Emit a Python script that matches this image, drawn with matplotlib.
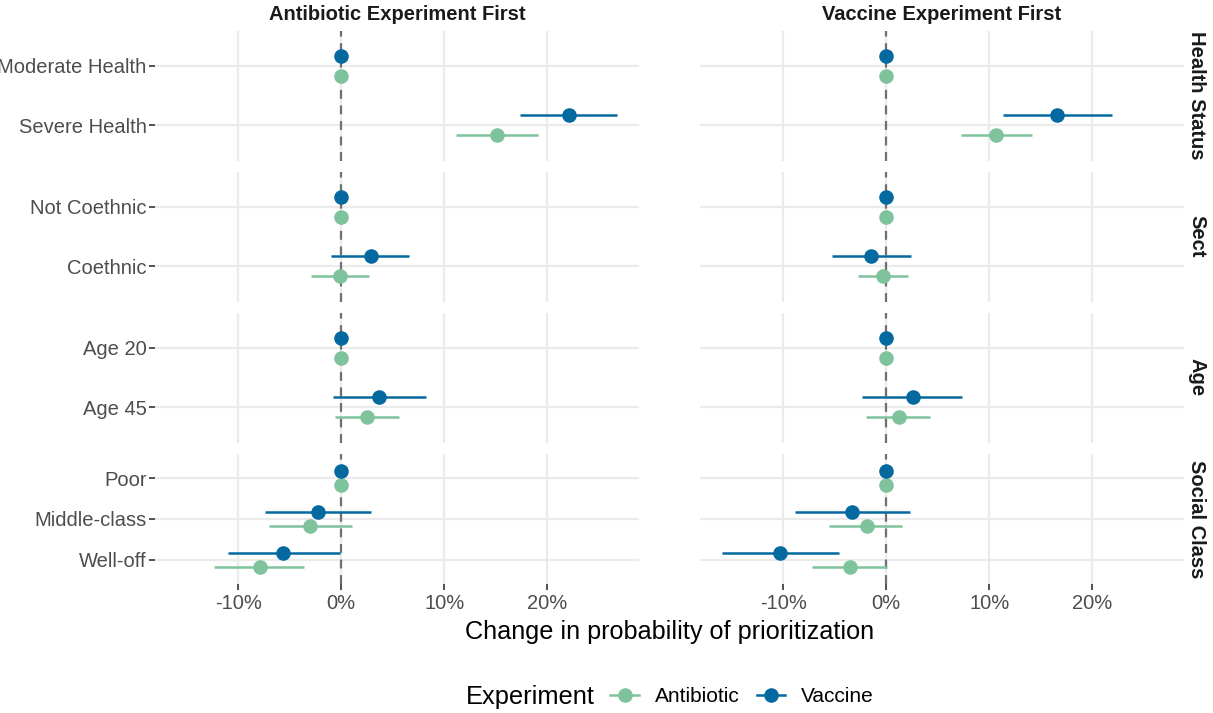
import numpy as np
import matplotlib
matplotlib.use("Agg")
import matplotlib.pyplot as plt
from matplotlib.lines import Line2D
from matplotlib.ticker import FuncFormatter
from matplotlib.offsetbox import HPacker

plt.rcParams['font.family'] = ['Liberation Sans', 'DejaVu Sans']

# facet rows and their levels (top to bottom)
groups = ['Health Status', 'Sect', 'Age', 'Social Class']
levels = [['Moderate Health', 'Severe Health'],
          ['Not Coethnic', 'Coethnic'],
          ['Age 20', 'Age 45'],
          ['Poor', 'Middle-class', 'Well-off']]
columns = ['Antibiotic Experiment First', 'Vaccine Experiment First']
series = ['Antibiotic', 'Vaccine']
colors = {'Antibiotic': '#7fc39c', 'Vaccine': '#04699e'}

# estimates in %, flattened over all levels in the order above
# Antibiotic Experiment First
vac_est_A = [0, 22.1, 0, 2.9, 0, 3.7, 0, -2.2, -5.6]
vac_lo_A = [0, 17.4, 0, -1.0, 0, -0.8, 0, -7.4, -11.0]
vac_hi_A = [0, 26.8, 0, 6.6, 0, 8.2, 0, 2.9, -0.1]
ant_est_A = [0, 15.1, 0, -0.1, 0, 2.5, 0, -3.0, -7.9]
ant_lo_A = [0, 11.1, 0, -2.9, 0, -0.6, 0, -7.0, -12.3]
ant_hi_A = [0, 19.1, 0, 2.7, 0, 5.6, 0, 1.1, -3.6]
# Vaccine Experiment First
vac_est_V = [0, 16.6, 0, -1.5, 0, 2.6, 0, -3.3, -10.3]
vac_lo_V = [0, 11.3, 0, -5.3, 0, -2.3, 0, -8.8, -15.9]
vac_hi_V = [0, 21.9, 0, 2.4, 0, 7.4, 0, 2.3, -4.6]
ant_est_V = [0, 10.7, 0, -0.3, 0, 1.2, 0, -1.9, -3.5]
ant_lo_V = [0, 7.3, 0, -2.7, 0, -2.0, 0, -5.5, -7.2]
ant_hi_V = [0, 14.2, 0, 2.1, 0, 4.3, 0, 1.5, 0.1]

data = {
    (0, 'Vaccine'): (vac_est_A, vac_lo_A, vac_hi_A),
    (0, 'Antibiotic'): (ant_est_A, ant_lo_A, ant_hi_A),
    (1, 'Vaccine'): (vac_est_V, vac_lo_V, vac_hi_V),
    (1, 'Antibiotic'): (ant_est_V, ant_lo_V, ant_hi_V),
}
dodge = {'Vaccine': 0.17, 'Antibiotic': -0.17}

W, H = 1213, 713
fig = plt.figure(figsize=(W / 100, H / 100), dpi=100)
fig.patch.set_facecolor('white')

col_x = [155, 700]
col_w = 484
row_y = [(30.5, 160.5), (171.5, 301.5), (312.5, 442.5), (454, 584)]

grid_col = '#ebebeb'
tick_col = '#4d4d4d'

start = 0
for r, grp in enumerate(groups):
    labs = levels[r]
    n = len(labs)
    idx = list(range(start, start + n))
    ypos = [n - 1 - k for k in range(n)]
    y0, y1 = row_y[r]
    for c in range(2):
        ax = fig.add_axes([col_x[c] / W, 1 - y1 / H, col_w / W, (y1 - y0) / H])
        ax.set_xlim(-18.06, 28.9)
        ax.set_ylim(-0.6, n - 1 + 0.6)
        for s in ax.spines.values():
            s.set_visible(False)
        ax.set_xticks([-10, 0, 10, 20])
        ax.set_yticks(ypos)
        ax.grid(True, color=grid_col, lw=1.6, zorder=0)
        ax.set_axisbelow(True)
        ax.axvline(0, color='#707070', lw=1.6, ls=(0, (4, 3)), zorder=1)
        for sname in series:
            est, lo, hi = data[(c, sname)]
            yy = np.array(ypos) + dodge[sname]
            e = np.array([est[i] for i in idx])
            l = np.array([lo[i] for i in idx])
            h = np.array([hi[i] for i in idx])
            has_ci = h > l
            ax.hlines(yy[has_ci], l[has_ci], h[has_ci], color=colors[sname],
                      lw=1.8, zorder=2)
            ax.plot(e, yy, 'o', ms=10.5, color=colors[sname], mec='none', zorder=3)
        ax.tick_params(axis='both', length=4, width=1.2, color='#333333',
                       labelcolor=tick_col, labelsize=14.5)
        ax.tick_params(axis='y', pad=2)
        ax.tick_params(axis='x', pad=3)
        if c == 0:
            ax.set_yticklabels(labs)
        else:
            ax.tick_params(axis='y', left=False, labelleft=False)
        if r < 3:
            ax.tick_params(axis='x', bottom=False, labelbottom=False)
        else:
            ax.xaxis.set_major_formatter(FuncFormatter(lambda v, p: f"{int(round(v))}%"))
        if r == 0:
            fig.text((col_x[c] + col_w / 2) / W, 1 - 20.5 / H, columns[c],
                     ha='center', va='baseline', fontsize=14.5, fontweight='bold',
                     color='#1a1a1a')
        if c == 1:
            ax.text(1.026, 0.5, grp, transform=ax.transAxes, rotation=270,
                    ha='center', va='center', fontsize=14.5, fontweight='bold',
                    color='#1a1a1a')
    start += n

fig.text(670 / W, 1 - 632 / H, 'Change in probability of prioritization',
         ha='center', va='center', fontsize=18.2, color='black')

handles = [Line2D([0], [0], color=colors[s], lw=1.8, marker='o', ms=10.5,
                  mec='none') for s in series]
leg = fig.legend(handles, series, loc='center', bbox_to_anchor=(670 / W, 1 - 697 / H),
                 ncol=2, frameon=False, fontsize=15, title='Experiment',
                 title_fontsize=18.3, handlelength=1.35, columnspacing=0.82,
                 handletextpad=0.78)
# put title on the same line as the entries
box = leg._legend_box
box._children = [HPacker(children=list(box.get_children()), align='center', pad=0, sep=11)]

fig.savefig('out.png', dpi=100, facecolor='white')
